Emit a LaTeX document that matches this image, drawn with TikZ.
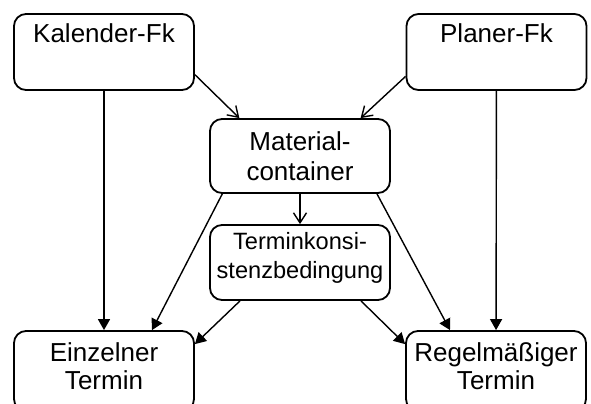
\documentclass[tikz,border=0pt]{standalone}
\usepackage{fontspec}
\setmainfont{Liberation Sans}
\usetikzlibrary{arrows.meta,positioning}

\begin{document}
\begin{tikzpicture}[x=0.5pt, y=-0.5pt,
            >={Triangle[length=5.5pt,width=6pt]},
            box/.style={draw, line width=0.9pt, rounded corners=6pt, minimum width=90pt,
                align=center, inner sep=0pt, font=\fontsize{13}{14}\selectfont},
            fk/.style={box, minimum height=38pt, text height=10pt, text depth=20pt},
            low/.style={box, minimum height=40pt, text depth=5pt},
            link/.style={line width=0.7pt},
            weak/.style={link, -{Straight Barb[length=5pt,width=6.5pt]}}
        ]
            \clip (0,0) rectangle (591,403);
            % functions
            \node[fk] (kal) at (104,52) {Kalender-Fk};
            \node[fk] (pla) at (496.5,52) {Planer-Fk};
            % container and condition
            \node[box, minimum height=37pt, font=\fontsize{13}{15}\selectfont] (mat) at (300,156)
                {Material-\\container};
            \node[box, minimum height=37.5pt, text depth=7.5pt, font=\fontsize{11.8}{14.5}\selectfont]
                (kon) at (300,262.5) {Terminkonsi-\\stenzbedingung};
            % appointments
            \node[low] (ein) at (104,371) {Einzelner\\Termin};
            \node[low] (reg) at (496,371) {Regelmäßiger\\Termin};
            % links
            \draw[weak] (kal.-14) -- (mat.148);
            \draw[weak] (pla.195) -- (mat.32);
            \draw[weak] (mat) -- (kon);
            \draw[link, ->] (kal) -- (ein);
            \draw[link, ->] (pla) -- (reg);
            \draw[link, ->] (mat.206) -- ([xshift=24pt]ein.north);
            \draw[link, ->] ([xshift=38.5pt]mat.south) -- ([xshift=-23pt]reg.north);
            \draw[link, ->] ([xshift=-30pt]kon.south) -- ([yshift=-7pt]ein.north east);
            \draw[link, ->] ([xshift=30.5pt]kon.south) -- ([yshift=-7pt]reg.north west);
        \end{tikzpicture}
\end{document}
